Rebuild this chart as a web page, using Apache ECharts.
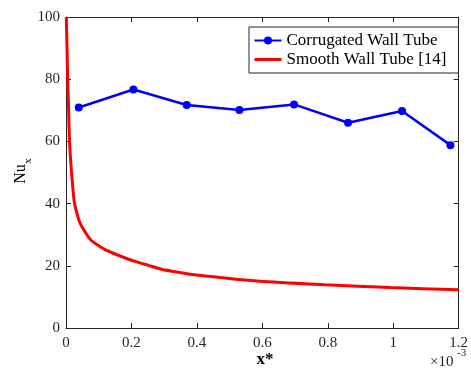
<!DOCTYPE html>
<html>
<head>
<meta charset="utf-8">
<script src="https://cdn.jsdelivr.net/npm/echarts@6/dist/echarts.min.js"></script>
<style>html,body{margin:0;padding:0;background:#fff;}#c{width:471px;height:370px;}</style>
</head>
<body>
<div id="c"></div>
<script>
// x* values in units of 1e-3
const corrX = [0.039, 0.206, 0.369, 0.530, 0.697, 0.862, 1.027, 1.175];
const corrNu = [70.9, 76.7, 71.7, 70.1, 71.9, 66.0, 69.8, 58.8];
const smoothX = [0.001, 0.005, 0.008, 0.011, 0.018, 0.026, 0.043, 0.076, 0.121, 0.181, 0.221, 0.25, 0.291, 0.35, 0.392, 0.592, 0.792, 0.992, 1.2];
const smoothNu = [100, 81, 70, 59.5, 48.7, 40.1, 33.7, 28.3, 25.1, 22.5, 21.1, 20.2, 18.9, 17.8, 17.1, 15.0, 13.9, 13.0, 12.3];
const xTicks = [0, 0.2, 0.4, 0.6, 0.8, 1, 1.2];
const yTicks = [0, 20, 40, 60, 80, 100];
const seriesNames = ['Corrugated Wall Tube', 'Smooth Wall Tube [14]'];

const FONT = '"Liberation Serif", "Times New Roman", serif';
const AX = '#262626';
const chart = echarts.init(document.getElementById('c'), null, {renderer: 'canvas'});
function axisCommon() {
  return {
    axisLine: {show: true, onZero: false, lineStyle: {color: AX, width: 1}},
    axisTick: {show: true, inside: true, length: 5, lineStyle: {color: AX}},
    splitLine: {show: false}
  };
}
chart.setOption({
  animation: false,
  backgroundColor: '#fff',
  grid: {left: 66, right: 6, top: 17, bottom: 42},
  xAxis: [
    Object.assign({type: 'value', min: 0, max: 1.2, interval: 0.2, position: 'bottom',
      axisLabel: {color: AX, fontFamily: FONT, fontSize: 15, margin: 8,
        formatter: v => { const t = xTicks.find(k => Math.abs(k - v) < 1e-9); return t === undefined ? '' : String(t); }}}, axisCommon()),
    Object.assign({type: 'value', min: 0, max: 1.2, interval: 0.2, position: 'top', axisLabel: {show: false}}, axisCommon())
  ],
  yAxis: [
    Object.assign({type: 'value', min: 0, max: 100, interval: 20, position: 'left',
      axisLabel: {color: AX, fontFamily: FONT, fontSize: 15, margin: 6,
        formatter: v => yTicks.includes(v) ? String(v) : ''}}, axisCommon()),
    Object.assign({type: 'value', min: 0, max: 100, interval: 20, position: 'right', axisLabel: {show: false}}, axisCommon())
  ],
  legend: {
    orient: 'vertical', left: 249, top: 27,
    backgroundColor: '#fff',
    borderColor: AX, borderWidth: 1,
    padding: [4, 12, 4, 4],
    itemGap: 0, itemWidth: 27, itemHeight: 10,
    textStyle: {fontFamily: FONT, fontSize: 17, color: '#000', lineHeight: 19},
    data: [
      {name: seriesNames[0]},
      {name: seriesNames[1], itemStyle: {color: 'rgba(0,0,0,0)', borderWidth: 0},
        lineStyle: {color: '#ff0000', width: 3}}
    ]
  },
  series: [
    {
      name: seriesNames[0], type: 'line',
      data: corrX.map((x, i) => [x, corrNu[i]]),
      symbol: 'circle', symbolSize: 8,
      itemStyle: {color: '#0000ff'},
      lineStyle: {color: '#0000ff', width: 2.5},
      z: 3
    },
    {
      name: seriesNames[1], type: 'line',
      data: smoothX.map((x, i) => [x, smoothNu[i]]),
      symbol: 'none', smooth: 0.2,
      itemStyle: {color: '#ff0000'},
      lineStyle: {color: '#ff0000', width: 3},
      clip: true, z: 2
    }
  ],
  graphic: [
    {type: 'text', x: 21, y: 174, rotation: Math.PI / 2,
      style: {text: 'Nu', font: '16px ' + FONT, fill: '#000', align: 'center', verticalAlign: 'middle'}},
    {type: 'text', x: 28, y: 161, rotation: Math.PI / 2,
      style: {text: 'x', font: '11px ' + FONT, fill: '#000', align: 'center', verticalAlign: 'middle'}},
    {type: 'text', x: 265, y: 360,
      style: {text: 'x*', font: 'bold 17px ' + FONT, fill: '#000', align: 'center', verticalAlign: 'middle'}},
    {type: 'text', x: 430, y: 362,
      style: {text: '×10', font: '15px ' + FONT, fill: AX, align: 'left', verticalAlign: 'middle'}},
    {type: 'text', x: 457, y: 353,
      style: {text: '-3', font: '11px ' + FONT, fill: AX, align: 'left', verticalAlign: 'middle'}}
  ]
});
</script>
</body>
</html>
